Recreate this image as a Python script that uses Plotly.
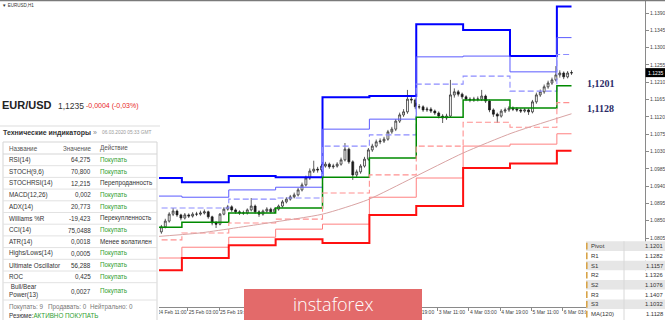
import plotly.graph_objects as go

W, H = 665, 320

# ---------------- data ----------------
tick_hours = [0, 16, 32, 48, 64, 80, 96, 112, 128, 144, 160, 176, 192, 208]
tick_labels = ["24 Feb 11:00", "25 Feb 03:00", "25 Feb 19:00", "26 Feb 11:00",
               "27 Feb 03:00", "27 Feb 19:00", "28 Feb 11:00", "2 Mar 03:00",
               "2 Mar 19:00", "3 Mar 11:00", "4 Mar 03:00", "4 Mar 19:00",
               "5 Mar 11:00", "6 Mar 03:00"]
# labels fully hidden behind the logo in the original picture
hidden_labels = ["26 Feb 11:00", "27 Feb 03:00", "27 Feb 19:00", "28 Feb 11:00", "2 Mar 03:00"]

price_ticks = [1.0805, 1.0850, 1.0895, 1.0940, 1.0985, 1.1030, 1.1075,
               1.1120, 1.1165, 1.1210, 1.1255, 1.1300, 1.1345, 1.1390]

candle_open = [1.0828, 1.0821, 1.0834, 1.0849, 1.0867, 1.0875, 1.0865, 1.0857, 1.0865, 1.0862,
               1.0867, 1.0867, 1.0870, 1.0873, 1.0860, 1.0844, 1.0841, 1.0867, 1.0880, 1.0886,
               1.0878, 1.0873, 1.0870, 1.0870, 1.0878, 1.0888, 1.0873, 1.0867, 1.0875, 1.0880,
               1.0873, 1.0880, 1.0888, 1.0899, 1.0906, 1.0912, 1.0917, 1.0930, 1.0943, 1.0961,
               1.0979, 1.0984, 1.0982, 1.0992, 1.0997, 1.0990, 1.0992, 1.0997, 1.1008, 1.1036,
               1.1003, 1.0969, 1.0977, 1.0992, 1.1010, 1.1034, 1.1044, 1.1055, 1.1057, 1.1062,
               1.1081, 1.1088, 1.1109, 1.1125, 1.1133, 1.1166, 1.1164, 1.1146, 1.1146, 1.1138,
               1.1140, 1.1135, 1.1130, 1.1122, 1.1117, 1.1122, 1.1177, 1.1185, 1.1179, 1.1172,
               1.1166, 1.1164, 1.1166, 1.1166, 1.1174, 1.1161, 1.1138, 1.1127, 1.1122, 1.1135,
               1.1138, 1.1143, 1.1140, 1.1138, 1.1135, 1.1138, 1.1133, 1.1159, 1.1177, 1.1185,
               1.1198, 1.1208, 1.1216, 1.1229, 1.1234, 1.1224, 1.1234]
candle_close = [1.0821, 1.0834, 1.0849, 1.0867, 1.0875, 1.0865, 1.0857, 1.0865, 1.0862, 1.0867,
                1.0867, 1.0870, 1.0873, 1.0860, 1.0844, 1.0841, 1.0867, 1.0880, 1.0886, 1.0878,
                1.0873, 1.0870, 1.0870, 1.0878, 1.0888, 1.0873, 1.0867, 1.0875, 1.0880, 1.0873,
                1.0880, 1.0888, 1.0899, 1.0906, 1.0912, 1.0917, 1.0930, 1.0943, 1.0961, 1.0979,
                1.0984, 1.0982, 1.0992, 1.0997, 1.0990, 1.0992, 1.0997, 1.1008, 1.1036, 1.1003,
                1.0969, 1.0977, 1.0992, 1.1010, 1.1034, 1.1044, 1.1055, 1.1057, 1.1062, 1.1081,
                1.1088, 1.1109, 1.1125, 1.1133, 1.1166, 1.1164, 1.1146, 1.1146, 1.1138, 1.1140,
                1.1135, 1.1130, 1.1122, 1.1117, 1.1122, 1.1177, 1.1185, 1.1179, 1.1172, 1.1166,
                1.1164, 1.1166, 1.1166, 1.1174, 1.1161, 1.1138, 1.1127, 1.1122, 1.1135, 1.1138,
                1.1143, 1.1140, 1.1138, 1.1135, 1.1138, 1.1133, 1.1159, 1.1177, 1.1185, 1.1198,
                1.1208, 1.1216, 1.1229, 1.1234, 1.1224, 1.1234, 1.1235]
candle_high = [1.0834, 1.0839, 1.0855, 1.0872, 1.0883, 1.0879, 1.0868, 1.0870, 1.0869, 1.0872,
               1.0873, 1.0876, 1.0879, 1.0876, 1.0863, 1.0849, 1.0870, 1.0885, 1.0891, 1.0890,
               1.0882, 1.0877, 1.0876, 1.0882, 1.0909, 1.0892, 1.0877, 1.0879, 1.0885, 1.0884,
               1.0884, 1.0892, 1.0904, 1.0911, 1.0917, 1.0923, 1.0935, 1.0949, 1.0967, 1.0986,
               1.1006, 1.0990, 1.0997, 1.1003, 1.1001, 1.0998, 1.1002, 1.1014, 1.1052, 1.1040,
               1.1007, 1.0983, 1.0997, 1.1016, 1.1039, 1.1050, 1.1061, 1.1064, 1.1068, 1.1086,
               1.1094, 1.1114, 1.1131, 1.1140, 1.1190, 1.1175, 1.1168, 1.1153, 1.1150, 1.1146,
               1.1145, 1.1139, 1.1134, 1.1127, 1.1128, 1.1216, 1.1194, 1.1190, 1.1183, 1.1176,
               1.1171, 1.1172, 1.1173, 1.1190, 1.1178, 1.1165, 1.1142, 1.1131, 1.1140, 1.1144,
               1.1148, 1.1147, 1.1145, 1.1142, 1.1143, 1.1142, 1.1164, 1.1183, 1.1191, 1.1204,
               1.1214, 1.1222, 1.1252, 1.1241, 1.1238, 1.1239, 1.1241]
candle_low = [1.0810, 1.0816, 1.0830, 1.0845, 1.0862, 1.0860, 1.0851, 1.0853, 1.0857, 1.0858,
              1.0862, 1.0863, 1.0866, 1.0855, 1.0838, 1.0831, 1.0838, 1.0864, 1.0876, 1.0873,
              1.0868, 1.0865, 1.0865, 1.0866, 1.0874, 1.0868, 1.0860, 1.0863, 1.0871, 1.0869,
              1.0869, 1.0876, 1.0884, 1.0895, 1.0902, 1.0908, 1.0913, 1.0926, 1.0939, 1.0956,
              1.0974, 1.0975, 1.0977, 1.0988, 1.0985, 1.0985, 1.0988, 1.0993, 1.1004, 1.0998,
              1.0956, 1.0962, 1.0972, 1.0988, 1.1006, 1.1029, 1.1040, 1.1049, 1.1052, 1.1058,
              1.1076, 1.1083, 1.1104, 1.1120, 1.1128, 1.1155, 1.1140, 1.1140, 1.1133, 1.1133,
              1.1130, 1.1125, 1.1116, 1.1104, 1.1112, 1.1118, 1.1170, 1.1173, 1.1166, 1.1161,
              1.1158, 1.1159, 1.1160, 1.1161, 1.1156, 1.1132, 1.1120, 1.1104, 1.1118, 1.1130,
              1.1133, 1.1135, 1.1133, 1.1130, 1.1131, 1.1125, 1.1129, 1.1154, 1.1172, 1.1180,
              1.1193, 1.1203, 1.1212, 1.1222, 1.1218, 1.1220, 1.1229]
candle_hour = [2 * k + 0.5 for k in range(len(candle_close))]

# daily pivot levels (one value per trading day)
day_start = [-2, 13, 37, 61, 85, 109, 133, 157, 181, 205]
day_end = 212.5
level_R3 = [1.0961, 1.0950, 1.0966, 1.0963, 1.1171, 1.1174, 1.1361, 1.1346, 1.1278, 1.1407]
level_R2 = [1.0914, 1.0911, 1.0930, 1.0937, 1.1088, 1.1114, 1.1276, 1.1278, 1.1237, 1.1326]
level_R1 = [1.0883, 1.0883, 1.0906, 1.0909, 1.1044, 1.1073, 1.1205, 1.1226, 1.1187, 1.1282]
level_P = [1.0833, 1.0846, 1.0870, 1.0883, 1.0963, 1.1013, 1.1119, 1.1164, 1.1143, 1.1201]
level_S1 = [1.0800, 1.0818, 1.0844, 1.0854, 1.0922, 1.0969, 1.1044, 1.1106, 1.1093, 1.1157]
level_S2 = [1.0753, 1.0781, 1.0807, 1.0828, 1.0841, 1.0911, 1.0961, 1.1044, 1.1049, 1.1076]
level_S3 = [1.0721, 1.0753, 1.0786, 1.0802, 1.0792, 1.0865, 1.0888, 1.0987, 1.0999, 1.1032]

ma_hour = [-2, 22, 57, 85, 108, 131, 157, 182, 212.5]
ma_value = [1.0808, 1.0818, 1.0844, 1.0867, 1.0904, 1.0961, 1.1026, 1.1078, 1.1128]

last_price = 1.1235
label_pivot = "1,1201"
label_ma = "1,1128"

ind_names = ["RSI(14)", "STOCH(9,6)", "STOCHRSI(14)", "MACD(12,26)", "ADX(14)", "Williams %R",
             "CCI(14)", "ATR(14)", "Highs/Lows(14)", "Ultimate Oscillator", "ROC",
             "Bull/Bear<br>Power(13)"]
ind_values = ["64,275", "70,800", "12,215", "0,002", "20,773", "-19,423", "75,0488",
              "0,0018", "0,0005", "56,288", "0,425", "0,0027"]
ind_actions = ["Покупать", "Покупать", "Перепроданность", "Покупать", "Покупать",
               "Перекупленность", "Покупать", "Менее волатилен", "Покупать", "Покупать",
               "Покупать", "Покупать"]

piv_labels = ["Pivot", "R1", "S1", "R2", "S2", "R3", "S3", "MA(120)"]
piv_values = ["1.1201", "1.1282", "1.1157", "1.1326", "1.1076", "1.1407", "1.1032", "1.1128"]

# ---------------- figure ----------------
fig = go.Figure()


def steps(vals):
    return day_start + [day_end], vals + [vals[-1]]


level_styles = [
    (level_R3, "#0000ff", 2.0, "solid"),
    (level_R2, "#5a5aff", 1.0, "solid"),
    (level_R1, "#8c8cff", 1.1, "6px,3px"),
    (level_P, "#008a00", 1.5, "solid"),
    (level_S1, "#ff9090", 1.1, "6px,3px"),
    (level_S2, "#ff8080", 1.0, "solid"),
    (level_S3, "#ff1010", 2.0, "solid"),
]
for vals, col, wd, dash in level_styles:
    xs, ys = steps(vals)
    fig.add_trace(go.Scatter(x=xs, y=ys, mode="lines", line=dict(color=col, width=wd, dash=dash, shape="hv"),
                             hoverinfo="skip", showlegend=False))

fig.add_trace(go.Scatter(x=ma_hour, y=ma_value, mode="lines",
                         line=dict(color="#d9a3a3", width=1, shape="spline", smoothing=0.6),
                         hoverinfo="skip", showlegend=False))

fig.add_trace(go.Candlestick(x=candle_hour, open=candle_open, high=candle_high, low=candle_low,
                             close=candle_close,
                             increasing=dict(line=dict(color="#1a1a1a", width=0.7), fillcolor="#ffffff"),
                             decreasing=dict(line=dict(color="#1a1a1a", width=0.7), fillcolor="#1a1a1a"),
                             whiskerwidth=0, showlegend=False, hoverinfo="skip"))

shapes = []
annotations = []


def px(x):
    return x / W


def py(y):
    return 1 - y / H


def rect(x0, y0, x1, y1, fill=None, line=None, lw=1):
    shapes.append(dict(type="rect", xref="paper", yref="paper", x0=px(x0), x1=px(x1),
                       y0=py(y1), y1=py(y0), layer="above",
                       fillcolor=fill if fill else "rgba(0,0,0,0)",
                       line=dict(color=line if line else "rgba(0,0,0,0)", width=lw if line else 0)))


def hline(x0, x1, y, color, lw=1):
    shapes.append(dict(type="line", xref="paper", yref="paper", x0=px(x0), x1=px(x1),
                       y0=py(y), y1=py(y), layer="above", line=dict(color=color, width=lw)))


def vline(x, y0, y1, color, lw=1):
    shapes.append(dict(type="line", xref="paper", yref="paper", x0=px(x), x1=px(x),
                       y0=py(y0), y1=py(y1), layer="above", line=dict(color=color, width=lw)))


FAM = "Liberation Sans, Arial, sans-serif"


def txt(x, y, s, size=6.5, color="#333333", xanchor="left", family=FAM):
    annotations.append(dict(x=px(x), y=py(y), xref="paper", yref="paper", text=s, showarrow=False,
                            xanchor=xanchor, yanchor="middle", borderpad=0,
                            font=dict(size=size, color=color, family=family)))


# top frame line and title
hline(0, W, 0.5, "#7a7a7a", 1.5)
txt(1, 5, "▼ EURUSD,H1", size=4.5, color="#333333")

# labels on the right of the chart
annotations.append(dict(x=px(601), y=py(83), xref="paper", yref="paper", text="<b>" + label_pivot + "</b>",
                        showarrow=False, xanchor="center", yanchor="middle",
                        font=dict(size=10, color="#2a2a66", family="Liberation Serif, Times New Roman, serif")))
annotations.append(dict(x=px(600), y=py(109), xref="paper", yref="paper", text="<b>" + label_ma + "</b>",
                        showarrow=False, xanchor="center", yanchor="middle",
                        font=dict(size=10, color="#2a2a66", family="Liberation Serif, Times New Roman, serif")))

# last price box on the price axis
yr0, yr1 = 1.06256, 1.14238
ydom0 = 13 / H


def price_to_py(p):
    return 307 - (p - yr0) / (yr1 - yr0) * 307


lp = price_to_py(last_price)
rect(645.5, lp - 4.5, 665, lp + 4.5, fill="#000000")
txt(655.5, lp, f"{last_price:.4f}", size=5, color="#ffffff", xanchor="center")

# ---- left indicator panel ----
rect(0, 92, 159, 320, fill="#ffffff")
txt(1, 105, "<b>EUR/USD</b>", size=11, color="#222222")
txt(57, 106, f"{last_price:.4f}".replace(".", ","), size=8.5, color="#333333")
txt(85, 106, "-0,0004 (-0,03%)", size=7, color="#e82828")
hline(0, 160, 126, "#dddddd", 1)
txt(2, 132.5, "<b>Технические индикаторы</b> <span style='color:#888'>»</span>", size=7, color="#333333")
txt(101, 132.5, "06.03.2020 05:33 GMT", size=4.8, color="#999999")

rect(3, 142, 157, 321, line="#d5d5d5", lw=1)
txt(8, 148, "Название", size=6.3, color="#555555")
txt(92, 148, "Значение", size=6.3, color="#555555", xanchor="right")
txt(99, 148, "Действие", size=6.3, color="#555555")

row_top = 154.0
row_h = 11.7
hline(3, 157, row_top, "#d5d5d5", 1)
GREEN = "#2f9e2f"
for i, (nm, vl, ac) in enumerate(zip(ind_names, ind_values, ind_actions)):
    if i < 11:
        y0 = row_top + i * row_h
        y1 = y0 + row_h
    else:
        y0 = row_top + 11 * row_h
        y1 = 300.0
    yc = (y0 + y1) / 2
    txt(8, yc, nm, size=6.3, color="#333333")
    txt(92, yc, vl, size=6.3, color="#333333", xanchor="right")
    txt(99, yc, ac, size=6.3, color=GREEN if ac == "Покупать" else "#333333")
    hline(3, 157, y1, "#e2e2e2", 1)

txt(8, 306.5, "Покупать: 9", size=6.3, color="#777777")
txt(47, 306.5, "Продавать: 0", size=6.3, color="#777777")
txt(89, 306.5, "Нейтрально: 0", size=6.3, color="#777777")
txt(8, 315.5, "Резюме:<span style='color:" + GREEN + "'>АКТИВНО ПОКУПАТЬ</span>", size=6.3, color="#333333")

# ---- instaforex logo ----
rect(244, 289, 422, 320, fill="#e36a6a")
annotations.append(dict(x=px(333), y=py(304), xref="paper", yref="paper", text="instaforex",
                        showarrow=False, xanchor="center", yanchor="middle",
                        font=dict(size=18, color="#ffffff", family="Open Sans, sans-serif", weight=300)))

# ---- pivot table ----
pt_top = 241.3
pt_h = 9.7
for i, (lb, vl) in enumerate(zip(piv_labels, piv_values)):
    y0 = pt_top + i * pt_h
    y1 = y0 + pt_h
    rect(586, y0, 665, y1, fill="#e6e6e6" if i % 2 == 0 else "#ffffff")
    rect(586, y0 + 1.5, 587.6, y1 - 1.5, fill="#d8a448")
    txt(589.5, (y0 + y1) / 2, lb, size=6, color="#333333")
    txt(663.5, (y0 + y1) / 2, vl, size=5.8, color="#333333", xanchor="right")
vline(624, pt_top, 320, "#d8d8d8", 1)

x_lo = (0 - 156.5) / 1.953
x_hi = (645 - 156.5) / 1.953

shown_ticktext = ["" if t in hidden_labels else t for t in tick_labels]

fig.update_layout(
    width=W, height=H,
    margin=dict(l=0, r=0, t=0, b=0),
    paper_bgcolor="#ffffff", plot_bgcolor="#ffffff",
    showlegend=False,
    shapes=shapes, annotations=annotations,
    xaxis=dict(domain=[0, 645 / W], range=[x_lo, x_hi], showgrid=False, zeroline=False,
               showline=True, linecolor="#8a8a8a", linewidth=1,
               ticks="outside", ticklen=3, tickcolor="#8a8a8a",
               tickvals=tick_hours, ticktext=shown_ticktext, ticklabelposition="outside right",
               tickangle=0, tickfont=dict(size=5, color="#444444", family=FAM),
               rangeslider=dict(visible=False), fixedrange=True, automargin=False),
    yaxis=dict(domain=[ydom0, 1], range=[yr0, yr1], side="right", showgrid=False, zeroline=False,
               showline=True, linecolor="#8a8a8a", linewidth=1,
               ticks="outside", ticklen=3, tickcolor="#8a8a8a",
               tickvals=price_ticks, ticktext=[f"{v:.4f}" for v in price_ticks],
               tickfont=dict(size=5, color="#444444", family=FAM),
               fixedrange=True, automargin=False),
)

fig.write_html("out.html")
